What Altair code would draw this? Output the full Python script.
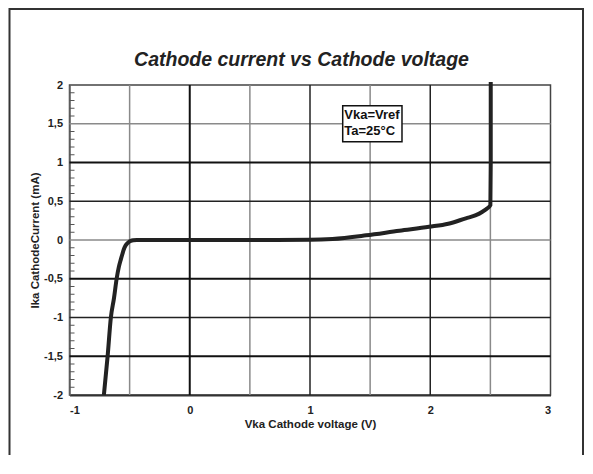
import altair as alt
import pandas as pd

# ---- data ----
curve_v = [-0.714, -0.683, -0.656, -0.630, -0.608, -0.590, -0.573, -0.560, -0.548, -0.535,
           -0.520, -0.505, -0.490, -0.470, -0.440, 0.0, 0.5, 1.0, 1.187, 1.466, 1.743,
           1.99, 2.15, 2.296, 2.380, 2.434, 2.475, 2.50, 2.503, 2.503]
curve_i = [-2.0, -1.5, -1.0, -0.75, -0.5, -0.35, -0.25, -0.18, -0.12, -0.075,
           -0.045, -0.025, -0.012, -0.004, 0.0, 0.0, 0.0, 0.002, 0.013, 0.06, 0.12,
           0.17, 0.21, 0.28, 0.32, 0.365, 0.41, 0.45, 1.0, 2.04]

x_ticks = [-1, 0, 1, 2, 3]
y_ticks = [-2, -1.5, -1, -0.5, 0, 0.5, 1, 1.5, 2]

vgrid_gray = [-0.5, 0.5, 1.5, 2.5]
vgrid_black = [1, 2]
vgrid_bold = [0]
hgrid_gray = [1.5, 0]
hgrid_black = [0.5, -1]
hgrid_bold = [1, -0.5, -1.5]
minor_y = [round(-2 + 0.1 * k, 1) for k in range(41) if (k % 5) != 0]

note_lines = ["Vka=Vref", "Ta=25°C"]
note_y = [1.561, 1.355]
note_box = {"x": 1.272, "x2": 1.765, "y": 1.268, "y2": 1.733}

title_text = "Cathode current vs Cathode voltage"
x_title = "Vka Cathode voltage (V)"
y_title = "Ika CathodeCurrent (mA)"

FONT = "Liberation Sans"
W, H = 481, 310

xs = alt.Scale(domain=[-1, 3], nice=False, zero=False)
ys = alt.Scale(domain=[-2, 2], nice=False, zero=False)
LBL = "replace(toString(datum.value), '.', ',')"
xaxis = alt.Axis(values=x_ticks, title=x_title, grid=False, ticks=False,
                 labelPadding=9, titlePadding=3, domainColor="#333", domainWidth=2,
                 labelFontSize=11, labelExpr=LBL)
yaxis = alt.Axis(values=y_ticks, title=y_title, grid=False, ticks=False,
                 labelPadding=7, titlePadding=3, domainColor="#666", domainWidth=1.5,
                 labelFontSize=11, labelExpr=LBL)

curve_df = pd.DataFrame({"v": curve_v, "i": curve_i, "n": list(range(len(curve_v)))})
one = pd.DataFrame({"a": [0]})

frame = alt.Chart(one).mark_rect(fillOpacity=0, stroke="#333", strokeWidth=2).encode(
    x=alt.value(-60), x2=alt.value(513.5), y=alt.value(-76), y2=alt.value(420)
)


def vrules(vals, color, width):
    return alt.Chart(pd.DataFrame({"v": vals})).mark_rule(color=color, strokeWidth=width).encode(
        x=alt.X("v:Q", scale=xs, axis=xaxis)
    )


def hrules(vals, color, width):
    return alt.Chart(pd.DataFrame({"i": vals})).mark_rule(color=color, strokeWidth=width).encode(
        y=alt.Y("i:Q", scale=ys, axis=yaxis)
    )


minor = alt.Chart(pd.DataFrame({"i": minor_y})).mark_rule(color="#555", strokeWidth=1).encode(
    y=alt.Y("i:Q", scale=ys, axis=yaxis), x=alt.value(0), x2=alt.value(5)
)

line = alt.Chart(curve_df).mark_line(strokeWidth=4, color="#222", interpolate="monotone").encode(
    x=alt.X("v:Q", scale=xs, axis=xaxis),
    y=alt.Y("i:Q", scale=ys, axis=yaxis),
    order="n:Q",
)

box_df = pd.DataFrame({"v": [note_box["x"]], "v2": [note_box["x2"]],
                       "i": [note_box["y"]], "i2": [note_box["y2"]]})
box = alt.Chart(box_df).mark_rect(fill="white", stroke="#111", strokeWidth=1.5).encode(
    x=alt.X("v:Q", scale=xs, axis=xaxis), x2="v2:Q",
    y=alt.Y("i:Q", scale=ys, axis=yaxis), y2="i2:Q",
)
note_df = pd.DataFrame({"t": note_lines, "i": note_y, "v": [1.285, 1.285]})
note = alt.Chart(note_df).mark_text(align="left", baseline="alphabetic", font=FONT,
                                    fontWeight="bold", fontSize=13, color="#111").encode(
    x=alt.X("v:Q", scale=xs, axis=xaxis), y=alt.Y("i:Q", scale=ys, axis=yaxis), text="t:N"
)

title = alt.Chart(one).mark_text(align="center", baseline="alphabetic", font=FONT,
                                 fontWeight="bold", fontStyle="italic", fontSize=19.5,
                                 color="#222").encode(
    x=alt.value(232), y=alt.value(-19), text=alt.value(title_text)
)

chart = alt.layer(
    frame,
    vrules(vgrid_gray, "#8a8a8a", 1.5),
    hrules(hgrid_gray, "#8a8a8a", 1.5),
    vrules(vgrid_black, "#222", 1.5),
    hrules(hgrid_black, "#222", 1.5),
    vrules(vgrid_bold, "#111", 2),
    hrules(hgrid_bold, "#111", 2),
    minor,
    line,
    box,
    note,
    title,
).properties(
    width=W, height=H,
    autosize=alt.AutoSizeParams(type="none"),
    padding={"left": 61.5, "top": 77, "right": 34, "bottom": 60},
    background="white",
).configure_view(
    stroke="#444", strokeWidth=1.5
).configure_axis(
    labelFont=FONT, labelFontWeight="bold", labelFontSize=11, labelColor="#222",
    titleFont=FONT, titleFontWeight="bold", titleFontSize=11.5, titleColor="#222",
)

chart.save("out.html", embed_options={"renderer": "svg", "actions": False})
